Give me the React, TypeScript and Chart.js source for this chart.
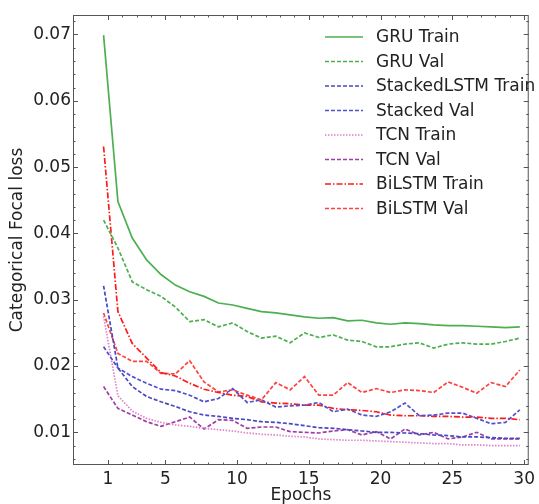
import React, { useEffect, useRef } from "react";
import { Chart, registerables } from "chart.js";

Chart.register(...registerables);

const epochs = [1, 2, 3, 4, 5, 6, 7, 8, 9, 10, 11, 12, 13, 14, 15, 16, 17, 18, 19, 20, 21, 22, 23, 24, 25, 26, 27, 28, 29, 30];

const gruTrain = [0.0699, 0.0448, 0.0393, 0.036, 0.0338, 0.0322, 0.0312, 0.0305, 0.0295, 0.0292, 0.0287, 0.0282, 0.028, 0.0277, 0.0274, 0.0272, 0.0273, 0.0268, 0.0269, 0.0265, 0.0263, 0.0265, 0.0264, 0.0262, 0.0261, 0.0261, 0.026, 0.0259, 0.0258, 0.0259];
const gruVal = [0.042, 0.0378, 0.0327, 0.0315, 0.0305, 0.0289, 0.0267, 0.027, 0.0259, 0.0265, 0.0252, 0.0242, 0.0245, 0.0235, 0.025, 0.0243, 0.0247, 0.0239, 0.0237, 0.0229, 0.0229, 0.0233, 0.0235, 0.0227, 0.0233, 0.0235, 0.0233, 0.0233, 0.0237, 0.0242];
const stackedTrain = [0.0321, 0.0197, 0.0169, 0.0154, 0.0146, 0.0139, 0.0131, 0.0126, 0.0124, 0.0121, 0.0119, 0.0116, 0.0115, 0.0113, 0.011, 0.0107, 0.0106, 0.0104, 0.0102, 0.01, 0.01, 0.0099, 0.0098, 0.0096, 0.0095, 0.0093, 0.0093, 0.0092, 0.0091, 0.0091];
const stackedVal = [0.0229, 0.0197, 0.0184, 0.0174, 0.0165, 0.0163, 0.0156, 0.0146, 0.0151, 0.0166, 0.0145, 0.0149, 0.0138, 0.014, 0.0141, 0.0145, 0.0131, 0.0135, 0.0126, 0.0124, 0.0131, 0.0144, 0.0125, 0.0126, 0.0129, 0.0129, 0.0121, 0.0113, 0.0115, 0.0134];
const tcnTrain = [0.0275, 0.0155, 0.0132, 0.0121, 0.0115, 0.0111, 0.0109, 0.0106, 0.0104, 0.0102, 0.0099, 0.0097, 0.0096, 0.0094, 0.0093, 0.009, 0.0089, 0.0088, 0.0088, 0.0087, 0.0086, 0.0085, 0.0084, 0.0083, 0.0083, 0.0081, 0.0081, 0.008, 0.008, 0.008];
const tcnVal = [0.0169, 0.0136, 0.0126, 0.0116, 0.0109, 0.0116, 0.0123, 0.0105, 0.0119, 0.0118, 0.0106, 0.0108, 0.0108, 0.0101, 0.01, 0.0099, 0.0102, 0.0104, 0.0096, 0.0101, 0.009, 0.0105, 0.0096, 0.01, 0.009, 0.0093, 0.01, 0.009, 0.009, 0.009];
const bilstmTrain = [0.0531, 0.0282, 0.0234, 0.0212, 0.019, 0.0185, 0.0174, 0.0165, 0.016, 0.0156, 0.0154, 0.0146, 0.0144, 0.0143, 0.0141, 0.0141, 0.0136, 0.0134, 0.0133, 0.0131, 0.0126, 0.0125, 0.0125, 0.0124, 0.0124, 0.0123, 0.0123, 0.0121, 0.0121, 0.0119];
const bilstmVal = [0.028, 0.0219, 0.0207, 0.0207, 0.0189, 0.0188, 0.0208, 0.0176, 0.0161, 0.0164, 0.0156, 0.0149, 0.0175, 0.0164, 0.0184, 0.0156, 0.0156, 0.0175, 0.016, 0.0166, 0.016, 0.0164, 0.0163, 0.016, 0.0176, 0.0168, 0.0159, 0.0175, 0.0169, 0.0194];

const xTickLabels = [1, 5, 10, 15, 20, 25, 30];
const yTickLabels = [0.01, 0.02, 0.03, 0.04, 0.05, 0.06, 0.07];

const FONT = "'DejaVu Sans', sans-serif";
const FONT_SIZE = 17;
const TICK_SHIFT = 0.3;

const series = [
  { label: "GRU Train", data: gruTrain, color: "#4caf50", dash: [] as number[] },
  { label: "GRU Val", data: gruVal, color: "#4caf50", dash: [4, 2] },
  { label: "StackedLSTM Train", data: stackedTrain, color: "#4848c0", dash: [4, 2] },
  { label: "Stacked Val", data: stackedVal, color: "#5050cc", dash: [4, 2] },
  { label: "TCN Train", data: tcnTrain, color: "#e080cc", dash: [1.5, 1.5] },
  { label: "TCN Val", data: tcnVal, color: "#a03ca8", dash: [4, 2] },
  { label: "BiLSTM Train", data: bilstmTrain, color: "#ff1a1a", dash: [6, 2, 1.5, 2] },
  { label: "BiLSTM Val", data: bilstmVal, color: "#ff4040", dash: [4, 2] },
];

const decorPlugin = {
  id: "decor",
  afterDraw(chart: any) {
    const ctx = chart.ctx;
    const { left, right, top, bottom } = chart.chartArea;
    const xs = chart.scales.x;
    const ys = chart.scales.y;
    ctx.save();
    ctx.setLineDash([]);
    ctx.strokeStyle = "#555";
    ctx.lineWidth = 1;
    ctx.strokeRect(left + 0.5, top + 0.5, right - left - 1, bottom - top - 1);
    ctx.beginPath();
    for (let e = 1; e <= 30; e++) {
      const px = Math.round(xs.getPixelForValue(e + TICK_SHIFT)) + 0.5;
      const len = xTickLabels.includes(e) ? 5 : 2.5;
      ctx.moveTo(px, bottom);
      ctx.lineTo(px, bottom - len);
      ctx.moveTo(px, top);
      ctx.lineTo(px, top + len);
    }
    for (let k = 3; k <= 36; k++) {
      const v = k * 0.002;
      const py = Math.round(ys.getPixelForValue(v)) + 0.5;
      if (py < top || py > bottom) continue;
      const len = k % 5 === 0 ? 5 : 2.5;
      ctx.moveTo(left, py);
      ctx.lineTo(left + len, py);
      ctx.moveTo(right, py);
      ctx.lineTo(right - len, py);
    }
    ctx.stroke();

    ctx.fillStyle = "#222";
    ctx.font = `${FONT_SIZE}px ${FONT}`;
    ctx.textAlign = "center";
    ctx.textBaseline = "middle";
    ctx.fillText("Epochs", (left + right) / 2, 496);
    ctx.save();
    ctx.translate(18, (top + bottom) / 2);
    ctx.rotate(-Math.PI / 2);
    ctx.fillText("Categorical Focal loss", 0, 0);
    ctx.restore();

    ctx.textAlign = "left";
    chart.data.datasets.forEach((ds: any, i: number) => {
      const y = 37 + i * 24.5;
      ctx.beginPath();
      ctx.strokeStyle = ds.borderColor;
      ctx.lineWidth = 1.6;
      ctx.setLineDash(ds.borderDash || []);
      ctx.moveTo(325, y);
      ctx.lineTo(363, y);
      ctx.stroke();
      ctx.setLineDash([]);
      ctx.fillStyle = "#222";
      ctx.fillText(ds.label, 376, y + 1);
    });
    ctx.restore();
  },
};

export default function App() {
  const canvasRef = useRef<HTMLCanvasElement | null>(null);

  useEffect(() => {
    if (!canvasRef.current) return;
    const chart = new Chart(canvasRef.current, {
      type: "line",
      data: {
        datasets: series.map((s) => ({
          label: s.label,
          data: s.data.map((v, i) => ({ x: epochs[i], y: v })),
          borderColor: s.color,
          backgroundColor: s.color,
          borderDash: s.dash,
          borderWidth: 1.7,
          pointRadius: 0,
          tension: 0,
          fill: false,
        })),
      },
      options: {
        animation: false,
        responsive: false,
        devicePixelRatio: 1,
        layout: { padding: { top: 15, right: 4, left: 0, bottom: 0 } },
        plugins: { legend: { display: false }, tooltip: { enabled: false } },
        scales: {
          x: {
            type: "linear",
            min: -1.13,
            max: 30.62,
            grid: { display: false, drawTicks: false },
            border: { display: false },
            afterFit: (s: any) => {
              s.height = 39;
            },
            afterBuildTicks: (s: any) => {
              s.ticks = xTickLabels.map((v) => ({ value: v + TICK_SHIFT }));
            },
            ticks: {
              autoSkip: false,
              maxRotation: 0,
              padding: 4,
              color: "#222",
              font: { family: FONT, size: FONT_SIZE },
              callback: (v: any) => String(Math.round(Number(v) - TICK_SHIFT)),
            },
          },
          y: {
            type: "linear",
            min: 0.00507,
            max: 0.07294,
            grid: { display: false, drawTicks: false },
            border: { display: false },
            afterFit: (s: any) => {
              s.width = 73;
            },
            afterBuildTicks: (s: any) => {
              s.ticks = yTickLabels.map((v) => ({ value: v }));
            },
            ticks: {
              autoSkip: false,
              padding: 2,
              color: "#222",
              font: { family: FONT, size: FONT_SIZE },
              callback: (v: any) => Number(v).toFixed(2),
            },
          },
        },
      },
      plugins: [decorPlugin],
    });
    return () => chart.destroy();
  }, []);

  return (
    <div style={{ position: "absolute", left: 0, top: 0, width: 539, height: 504, background: "#fff" }}>
      <canvas ref={canvasRef} width={539} height={504} style={{ display: "block" }} />
    </div>
  );
}
